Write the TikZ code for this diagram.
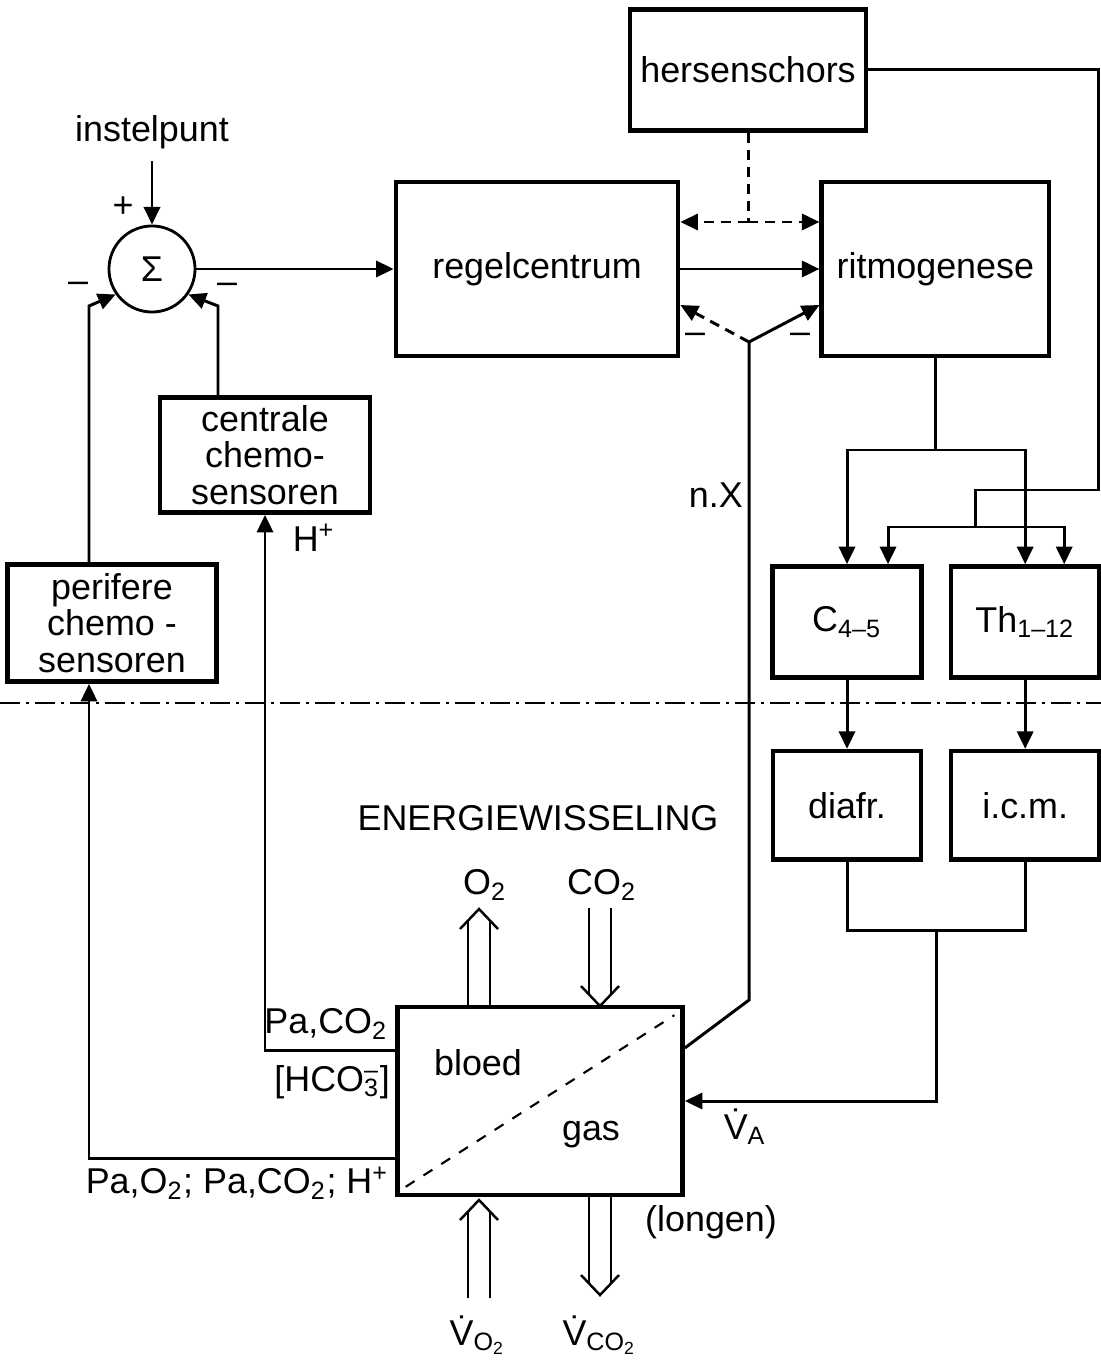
\documentclass[tikz,border=0pt]{standalone}
\usepackage{fontspec}
\setmainfont{Liberation Sans}
\usetikzlibrary{positioning, arrows.meta}

\begin{document}
\begin{tikzpicture}[x=0.01cm, y=-0.01cm,
        font=\fontsize{10.2}{10.4}\selectfont,
        box/.style={draw, line width=1.3pt, align=center, inner sep=2pt},
        lijn/.style={line width=0.85pt},
        arr/.style={lijn, -{Triangle[length=5pt, width=4.6pt]}},
        stip/.style={dash pattern=on 0.1cm off 0.07cm},
        sepline/.style={line width=0.8pt, dash pattern=on 0.2cm off 0.06cm on 0.03cm off 0.06cm},
        hollow/.pic={
          \draw[line width=0.7pt] (-11,0) -- (-11,-86) (11,0) -- (11,-86);
          \draw[line width=0.7pt] (-19,-78) -- (0,-98) -- (19,-78);
        }
      ]
        \useasboundingbox (0,0) rectangle (1101,1361);

        % centrale zenuwstelsel
        \node[box, minimum width=2.36cm, minimum height=1.21cm] (hers) at (748,70) {hersenschors};
        \node[box, minimum width=2.82cm, minimum height=1.74cm] (regel) at (537,269) {regelcentrum};
        \node[box, minimum width=2.27cm, minimum height=1.74cm, right=1.39cm of regel] (ritmo) {ritmogenese};
        \node[circle, draw, line width=0.8pt, minimum size=0.86cm, inner sep=0pt] (sig) at (152,269) {Σ};
        \node (inst) at (152,132) {instelpunt};
        \node (plus) at (123,207) {+};
        \node (minl) at (78,287) {--};
        \node (minr) at (227,288) {--};
        \node[box, minimum width=2.1cm, minimum height=1.15cm] (centr) at (265,455) {centrale\\chemo-\\sensoren};
        \node[box, minimum width=2.09cm, minimum height=1.17cm] (perif) at (112,623) {perifere\\chemo -\\sensoren};
        \node (hplus) at (314,538) {H\textsuperscript{+}};
        \node[anchor=east, inner sep=1pt] (nxlab) at (747,495) {n.X};
        \node (minreg) at (695,338) {--};
        \node (minrit) at (800,338) {--};

        % ruggenmerg en spieren
        \node[box, minimum width=1.49cm, minimum height=1.11cm] (cfive) at (847,622) {C\textsubscript{4--5}};
        \node[box, minimum width=1.48cm, minimum height=1.11cm, right=0.25cm of cfive] (thor) {Th\textsubscript{1--12}};
        \node[box, minimum width=1.48cm, minimum height=1.08cm, below=0.69cm of cfive] (diafr) {diafr.};
        \node[box, minimum width=1.48cm, minimum height=1.08cm, below=0.69cm of thor] (icm) {i.c.m.};

        % longen
        \node (energ) at (538,818) {ENERGIEWISSELING};
        \node[box, minimum width=2.85cm, minimum height=1.88cm] (long) at (540,1101) {};
        \node (bloed) at (478,1063) {bloed};
        \node (gas) at (591,1135) {gas};
        \node (otwo) at (485,885) {O\textsubscript{2}};
        \node (cotwo) at (602,885) {CO\textsubscript{2}};
        \node (vo) at (478,1335) {\.{V}\textsubscript{O\textsubscript{2}}};
        \node (vco) at (600,1335) {\.{V}\textsubscript{CO\textsubscript{2}}};
        \node (longen) at (711,1222) {(longen)};
        \node (va) at (745,1127) {\.{V}\textsubscript{A}};
        \node[anchor=east, inner sep=1pt] (paco) at (392,1024) {Pa,CO\textsubscript{2}};
        \node[anchor=east, inner sep=1pt] (hco) at (394,1082) {[HCO\rlap{\textsuperscript{--}}\textsubscript{3}]};
        \node[anchor=east, inner sep=1pt] (paoo) at (393,1183) {Pa,O\textsubscript{2}; Pa,CO\textsubscript{2}; H\textsuperscript{+}};

        \draw[dashed, line width=0.6pt] ([shift={(3pt,3pt)}]long.south west) -- ([shift={(-3pt,-3pt)}]long.north east);
        \pic at (479,1007) {hollow};
        \pic[rotate=180] at (600,908) {hollow};
        \pic at (479,1298) {hollow};
        \pic[rotate=180] at (600,1197) {hollow};

        \coordinate (pl) at (89,306);
        \coordinate (pr) at (218,306);
        \coordinate (pa) at (265,1050);
        \coordinate (pb) at (89,1158);
        \coordinate (hx) at (748,222);
        \coordinate (nk) at (749,1000);
        \coordinate (nx) at (749,342);
        \coordinate (rty) at (0,450);
        \coordinate (rt) at (ritmo.south |- rty);
        \coordinate (hc) at (1098,490);
        \coordinate (hd) at (975,527);
        \coordinate (dj) at (936,930);

        \draw[arr] (inst) -- (sig);
        \draw[arr] (sig) -- (regel);
        \draw[arr] (perif.north -| pl) -- (pl) -- (sig.215);
        \draw[arr] (centr.north -| pr) -- (pr) -- (sig.325);
        \draw[arr] (long.west |- pa) -- (pa) -- (centr.south);
        \draw[arr] (long.west |- pb) -- (pb) -- (pb |- perif.south);

        \draw[lijn, stip] (hers) -- (hx);
        \draw[arr, stip] (hx) -- (hx -| regel.east);
        \draw[arr, stip] (hx) -- (hx -| ritmo.west);
        \draw[arr] (regel) -- (ritmo);
        \draw[lijn] ([yshift=0.53cm]long.east) -- (nk) -- (nx);
        \draw[arr, stip] (nx) -- ([yshift=-0.36cm]regel.east);
        \draw[arr] (nx) -- ([yshift=-0.36cm]ritmo.west);

        \draw[lijn] (ritmo.south) -- (rt);
        \draw[arr] (rt) -| (cfive.north);
        \draw[arr] (rt) -| (thor.north);
        \draw[lijn] (hers.east) -| (hc) -- (hc -| hd) -- (hd);
        \draw[arr] (hd) -| ([xshift=0.41cm]cfive.north);
        \draw[arr] (hd) -| ([xshift=0.39cm]thor.north);
        \draw[arr] (cfive) -- (diafr);
        \draw[arr] (thor) -- (icm);
        \draw[lijn] (diafr.south) |- (dj);
        \draw[lijn] (icm.south) |- (dj);
        \draw[arr] (dj) |- (long.east);

        \draw[sepline] (0,703) -- (1101,703);
      \end{tikzpicture}
\end{document}
